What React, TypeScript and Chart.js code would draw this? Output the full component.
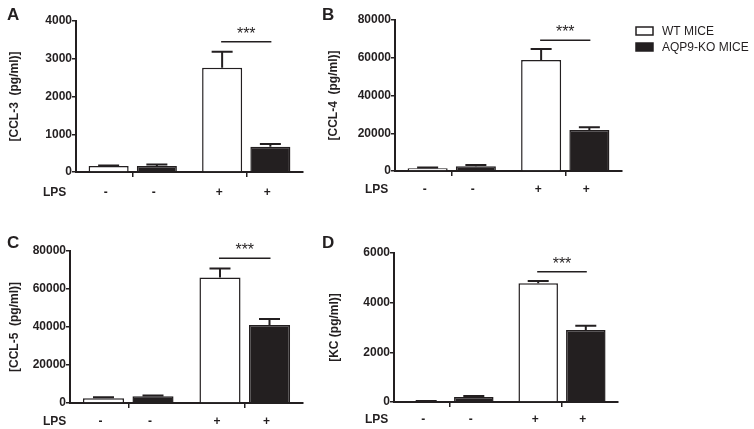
import { useEffect, useRef } from "react";
import { Chart, registerables, type Plugin } from "chart.js";

Chart.register(...registerables);

const INK = "#231f20";
const FONT = "'Liberation Sans', Arial, Helvetica, sans-serif";

// shared categories / legend
const lpsSigns = ["-", "+"];
const seriesNames = ["WT MICE", "AQP9-KO MICE"];

// A: CCL-3
const ccl3Wt = [160, 2760];
const ccl3WtErr = [10, 425];
const ccl3Ko = [160, 670];
const ccl3KoErr = [40, 70];
const ccl3Max = 4000;
const ccl3Step = 1000;
const ccl3Sig = 3450;

// B: CCL-4
const ccl4Wt = [1500, 58800];
const ccl4WtErr = [300, 5800];
const ccl4Ko = [2500, 21700];
const ccl4KoErr = [700, 1450];
const ccl4Max = 80000;
const ccl4Step = 20000;
const ccl4Sig = 69300;

// C: CCL-5
const ccl5Wt = [2500, 66100];
const ccl5WtErr = [500, 4700];
const ccl5Ko = [3500, 41000];
const ccl5KoErr = [400, 3150];
const ccl5Max = 80000;
const ccl5Step = 20000;
const ccl5Sig = 76200;

// D: KC
const kcWt = [40, 4780];
const kcWtErr = [5, 90];
const kcKo = [200, 2900];
const kcKoErr = [40, 170];
const kcMax = 6000;
const kcStep = 2000;
const kcSig = 5250;

type Box = { left: number; top: number; right: number; bottom: number };

type PanelProps = {
  letter: string;
  yTitle: string;
  wt: number[];
  wtErr: number[];
  ko: number[];
  koErr: number[];
  yMax: number;
  step: number;
  sig: number;
  left: number;
  top: number;
  w: number;
  h: number;
  area: Box;
  titlePad: number;
  lpsX: number;
  lpsY: number;
  letterX: number;
  letterY: number;
  legend?: boolean;
};

function makeDecor(p: PanelProps): Plugin<"bar"> {
  return {
    id: "decor",
    afterDatasetsDraw(chart) {
      const ctx = chart.ctx;
      const y = chart.scales.y;
      const errs = [p.wtErr, p.koErr];
      ctx.save();
      ctx.strokeStyle = INK;
      ctx.fillStyle = INK;
      ctx.textBaseline = "alphabetic";

      // error bars (upper only)
      ctx.lineWidth = 2;
      chart.data.datasets.forEach((ds, di) => {
        const meta = chart.getDatasetMeta(di);
        meta.data.forEach((el, i) => {
          const v = ds.data[i] as number;
          const top = y.getPixelForValue(v + errs[di][i]);
          ctx.beginPath();
          ctx.moveTo(el.x, el.y);
          ctx.lineTo(el.x, top);
          ctx.moveTo(el.x - 10.5, top);
          ctx.lineTo(el.x + 10.5, top);
          ctx.stroke();
        });
      });

      // LPS row
      ctx.font = `bold 12px ${FONT}`;
      ctx.textAlign = "left";
      ctx.fillText("LPS", p.lpsX, p.lpsY);
      ctx.textAlign = "center";
      chart.data.datasets.forEach((_, di) => {
        chart.getDatasetMeta(di).data.forEach((el, i) => {
          ctx.fillText(lpsSigns[i], el.x - 3, p.lpsY);
        });
      });

      // significance
      const a = chart.getDatasetMeta(0).data[1];
      const b = chart.getDatasetMeta(1).data[1];
      const sy = y.getPixelForValue(p.sig);
      ctx.lineWidth = 1.5;
      ctx.beginPath();
      ctx.moveTo(a.x - 1, sy);
      ctx.lineTo(b.x + 1, sy);
      ctx.stroke();
      ctx.font = `16px ${FONT}`;
      ctx.fillText("***", (a.x + b.x) / 2, sy - 3);

      // panel letter
      ctx.textAlign = "left";
      ctx.font = `bold 17px ${FONT}`;
      ctx.fillText(p.letter, p.letterX, p.letterY);

      // legend
      if (p.legend) {
        ctx.font = `12px ${FONT}`;
        ctx.textBaseline = "middle";
        const lx = 316;
        const rows = [31, 47];
        rows.forEach((cy, i) => {
          ctx.fillStyle = i === 0 ? "#ffffff" : INK;
          ctx.fillRect(lx, cy - 4, 17, 8);
          ctx.lineWidth = 1.5;
          ctx.strokeRect(lx, cy - 4, 17, 8);
          ctx.fillStyle = INK;
          ctx.fillText(seriesNames[i], lx + 26, cy + 0.5);
        });
      }
      ctx.restore();
    },
  };
}

function Panel(p: PanelProps) {
  const ref = useRef<HTMLCanvasElement | null>(null);

  useEffect(() => {
    const canvas = ref.current;
    if (!canvas) return;
    const tickFont = { family: FONT, size: 12, weight: "bold" as const };
    const chart = new Chart(canvas, {
      type: "bar",
      data: {
        labels: lpsSigns,
        datasets: [
          {
            label: seriesNames[0],
            data: p.wt,
            backgroundColor: "#ffffff",
            borderColor: INK,
            borderWidth: 1.5,
            categoryPercentage: 0.85,
            barPercentage: 0.83,
          },
          {
            label: seriesNames[1],
            data: p.ko,
            backgroundColor: INK,
            borderColor: INK,
            borderWidth: 1.5,
            categoryPercentage: 0.85,
            barPercentage: 0.83,
          },
        ],
      },
      options: {
        responsive: false,
        animation: false,
        layout: {
          padding: { left: 0, top: p.area.top, right: p.w - p.area.right, bottom: 0 },
        },
        plugins: { legend: { display: false }, tooltip: { enabled: false } },
        scales: {
          x: {
            grid: {
              offset: false,
              drawOnChartArea: false,
              drawTicks: true,
              tickLength: 5,
              color: INK,
              lineWidth: 1.5,
            },
            border: { display: true, color: INK, width: 2 },
            ticks: { display: false },
            afterFit: (s) => {
              s.height = p.h - p.area.bottom;
            },
          },
          y: {
            min: 0,
            max: p.yMax,
            ticks: {
              stepSize: p.step,
              color: INK,
              font: tickFont,
              padding: 0,
              callback: (v) => String(v),
            },
            grid: {
              drawOnChartArea: false,
              drawTicks: true,
              tickLength: 4,
              color: INK,
              lineWidth: 1.5,
            },
            border: { display: true, color: INK, width: 2 },
            title: {
              display: true,
              text: p.yTitle,
              color: INK,
              font: tickFont,
              padding: { top: p.titlePad, bottom: 0 },
            },
            afterFit: (s) => {
              s.width = p.area.left;
            },
          },
        },
      },
      plugins: [makeDecor(p)],
    });
    return () => chart.destroy();
  }, [p]);

  return (
    <canvas
      ref={ref}
      width={p.w}
      height={p.h}
      style={{ position: "absolute", left: p.left, top: p.top, width: p.w, height: p.h }}
    />
  );
}

const panels: PanelProps[] = [
  {
    letter: "A",
    yTitle: "[CCL-3  (pg/ml)]",
    wt: ccl3Wt, wtErr: ccl3WtErr, ko: ccl3Ko, koErr: ccl3KoErr,
    yMax: ccl3Max, step: ccl3Step, sig: ccl3Sig,
    left: 0, top: 0, w: 320, h: 210,
    area: { left: 76, top: 21, right: 303, bottom: 172 },
    titlePad: 7, lpsX: 43, lpsY: 196, letterX: 7, letterY: 20,
  },
  {
    letter: "B",
    yTitle: "[CCL-4  (pg/ml)]",
    wt: ccl4Wt, wtErr: ccl4WtErr, ko: ccl4Ko, koErr: ccl4KoErr,
    yMax: ccl4Max, step: ccl4Step, sig: ccl4Sig,
    left: 320, top: 0, w: 434, h: 210,
    area: { left: 75, top: 20, right: 302, bottom: 171 },
    titlePad: 6, lpsX: 45, lpsY: 193, letterX: 2, letterY: 20,
    legend: true,
  },
  {
    letter: "C",
    yTitle: "[CCL-5  (pg/ml)]",
    wt: ccl5Wt, wtErr: ccl5WtErr, ko: ccl5Ko, koErr: ccl5KoErr,
    yMax: ccl5Max, step: ccl5Step, sig: ccl5Sig,
    left: 0, top: 215, w: 320, h: 214,
    area: { left: 70, top: 36, right: 303, bottom: 188 },
    titlePad: 7, lpsX: 43, lpsY: 210, letterX: 7, letterY: 33,
  },
  {
    letter: "D",
    yTitle: "[KC (pg/ml)]",
    wt: kcWt, wtErr: kcWtErr, ko: kcKo, koErr: kcKoErr,
    yMax: kcMax, step: kcStep, sig: kcSig,
    left: 320, top: 215, w: 320, h: 214,
    area: { left: 74, top: 38, right: 298, bottom: 187 },
    titlePad: 7, lpsX: 45, lpsY: 208, letterX: 2, letterY: 33,
  },
];

export default function App() {
  return (
    <div
      style={{
        position: "absolute",
        left: 0,
        top: 0,
        width: 754,
        height: 429,
        background: "#ffffff",
        overflow: "hidden",
      }}
    >
      {panels.map((p) => (
        <Panel key={p.letter} {...p} />
      ))}
    </div>
  );
}
